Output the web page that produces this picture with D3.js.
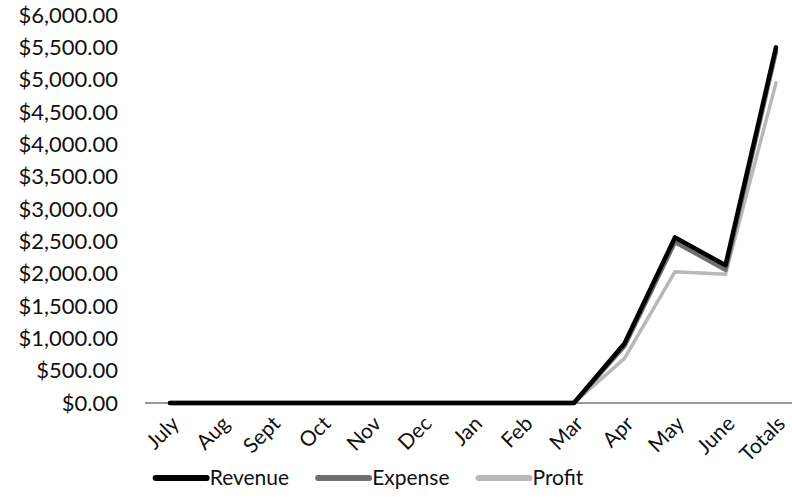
<!DOCTYPE html>
<html><head><meta charset="utf-8">
<script src="https://cdn.jsdelivr.net/npm/d3@7"></script>
<style>body{margin:0;background:#fff}svg{display:block}</style>
</head><body>
<svg id="chart" width="792" height="498"></svg>
<script>
const categories = ["July","Aug","Sept","Oct","Nov","Dec","Jan","Feb","Mar","Apr","May","June","Totals"];
const revenue = [0,0,0,0,0,0,0,0,0,920,2560,2130,5500];
const expense = [0,0,0,0,0,0,0,0,0,880,2490,2060,5440];
const profit  = [0,0,0,0,0,0,0,0,0,690,2030,1990,4950];
const yTicks = [0,500,1000,1500,2000,2500,3000,3500,4000,4500,5000,5500,6000];
const seriesNames = ["Revenue","Expense","Profit"];

const svg = d3.select("#chart");
const font = "Lato, 'Open Sans', sans-serif";
const x = d3.scalePoint().domain(categories).range([170, 776]);
const y = d3.scaleLinear().domain([0, 6000]).range([403, 15]);
const fmt = d => "$" + d3.format(",.2f")(d);

// y axis labels
const yAxis = d3.axisLeft(y).tickValues(yTicks).tickFormat(fmt).tickSize(0).tickPadding(0);
const yg = svg.append("g").attr("transform", "translate(118,0)").call(yAxis);
yg.select(".domain").remove();
yg.selectAll("text").attr("font-family", font).attr("font-size", 22).attr("fill", "#111");

// x axis line
svg.append("line").attr("x1", 145).attr("x2", 792).attr("y1", y(0)).attr("y2", y(0))
  .attr("stroke", "#333").attr("stroke-width", 1);

// x labels
const xAxis = d3.axisBottom(x).tickSize(0).tickPadding(0);
const xg = svg.append("g").attr("transform", `translate(0,${y(0)})`).call(xAxis);
xg.select(".domain").remove();
xg.selectAll("text")
  .attr("font-family", font).attr("font-size", 21).attr("fill", "#111")
  .attr("text-anchor", "end").attr("dy", "0")
  .attr("transform", "translate(10,22) rotate(-45)");

const data = [
  {name: "Revenue", values: revenue, color: "#000", width: 4.5},
  {name: "Expense", values: expense, color: "#6f6f6f", width: 4.5},
  {name: "Profit", values: profit, color: "#b8b8b8", width: 3.5}
];
const line = d3.line().x((d, i) => x(categories[i])).y(d => y(d));
[data[2], data[1], data[0]].forEach(s => {
  svg.append("path").datum(s.values).attr("d", line)
    .attr("fill", "none").attr("stroke", s.color).attr("stroke-width", s.width)
    .attr("stroke-linejoin", "round").attr("stroke-linecap", "round");
});

// legend
const lg = svg.append("g");
let cx = 0;
data.forEach((s, i) => {
  const g = lg.append("g").attr("transform", `translate(${cx},478)`);
  g.append("line").attr("x1", 3).attr("x2", 54).attr("stroke", s.color)
    .attr("stroke-width", 6).attr("stroke-linecap", "round");
  const t = g.append("text").attr("x", 57).attr("dy", "0.35em").text(seriesNames[i])
    .attr("font-family", font).attr("font-size", 21).attr("fill", "#111");
  cx += 57 + t.node().getComputedTextLength() + 26;
});
const total = cx - 26;
lg.attr("transform", `translate(${368 - total / 2},0)`);
</script>
</body></html>
